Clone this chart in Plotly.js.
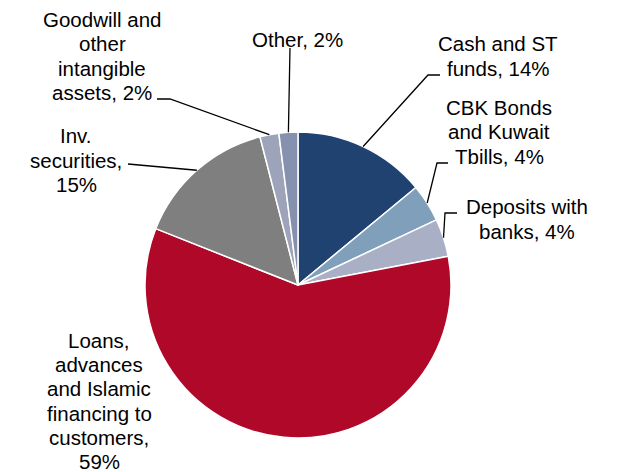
<!DOCTYPE html>
<html>
<head>
<meta charset="utf-8">
<script src="https://cdn.plot.ly/plotly-3.0.1.min.js"></script>
<style>html,body{margin:0;padding:0;background:#fff;}#chart{width:618px;height:472px;}</style>
</head>
<body>
<div id="chart"></div>
<script>
// ---- data ----
var categories = [
  "Cash and ST funds",
  "CBK Bonds and Kuwait Tbills",
  "Deposits with banks",
  "Loans, advances and Islamic financing to customers",
  "Inv. securities",
  "Goodwill and other intangible assets",
  "Other"
];
var values = [14, 4, 4, 59, 15, 2, 2];
var labelText = [
  "Cash and ST<br>funds, 14%",
  "CBK Bonds<br>and Kuwait<br>Tbills, 4%",
  "Deposits with<br>banks, 4%",
  "Loans,<br>advances<br>and Islamic<br>financing to<br>customers,<br>59%",
  "Inv.<br>securities,<br>15%",
  "Goodwill and<br>other<br>intangible<br>assets, 2%",
  "Other, 2%"
];
var colors = ["#1F4271", "#7F9FBA", "#A9AFC4", "#B00828", "#7F7F7F", "#9DA3B8", "#8591AE"];

// ---- layout (pixels) ----
var W = 618, H = 472;
var cx = 298, cy = 285, R = 153;
var lineGap = 24.2;
// label centres and leader-line elbow points (layout positions)
var labelPos = [[498, 56], [499, 132], [527, 219], [99, 401], [76, 160], [102, 56], [297, 39]];
var elbows = [
  [[428, 75], [440, 75]],
  [[437, 163], [448, 163]],
  [[445, 213], [457, 213]],
  null,
  [[128, 164]],
  [[170, 99], [157, 99]],
  [[290, 48]]
];

function px(x) { return x / W; }
function py(y) { return 1 - y / H; }

var total = values.reduce(function (a, b) { return a + b; }, 0);
var shapes = [];
var cum = 0;
values.forEach(function (v, i) {
  var mid = (cum + v / 2) / total * 2 * Math.PI;
  cum += v;
  if (!elbows[i]) return;
  var sx = cx + R * Math.sin(mid), sy = cy - R * Math.cos(mid);
  var pts = [[sx, sy]].concat(elbows[i]);
  var path = "M " + pts.map(function (p) { return px(p[0]) + "," + py(p[1]); }).join(" L ");
  shapes.push({type: "path", xref: "paper", yref: "paper", path: path,
               line: {color: "#000000", width: 1.3}});
});

var annotations = [];
labelText.forEach(function (t, i) {
  var lines = t.split("<br>");
  var n = lines.length;
  lines.forEach(function (ln, k) {
    var yy = labelPos[i][1] + (k - (n - 1) / 2) * lineGap;
    annotations.push({
      text: ln, showarrow: false, xref: "paper", yref: "paper",
      x: px(labelPos[i][0]), y: py(yy),
      xanchor: "center", yanchor: "middle", align: "center",
      font: {family: "Liberation Sans, Arial, sans-serif", size: 20.5, color: "#000000"}
    });
  });
});

var trace = {
  type: "pie",
  labels: categories,
  values: values,
  sort: false,
  direction: "clockwise",
  rotation: 0,
  textinfo: "none",
  hoverinfo: "label+percent",
  marker: {colors: colors, line: {color: "#ffffff", width: 1.5}},
  domain: {x: [px(cx - R), px(cx + R)], y: [py(cy + R), py(cy - R)]},
  showlegend: false
};

var layout = {
  width: W, height: H,
  margin: {l: 0, r: 0, t: 0, b: 0},
  paper_bgcolor: "#ffffff",
  plot_bgcolor: "#ffffff",
  showlegend: false,
  shapes: shapes,
  annotations: annotations
};

Plotly.newPlot("chart", [trace], layout, {displayModeBar: false, staticPlot: true});
</script>
</body>
</html>
